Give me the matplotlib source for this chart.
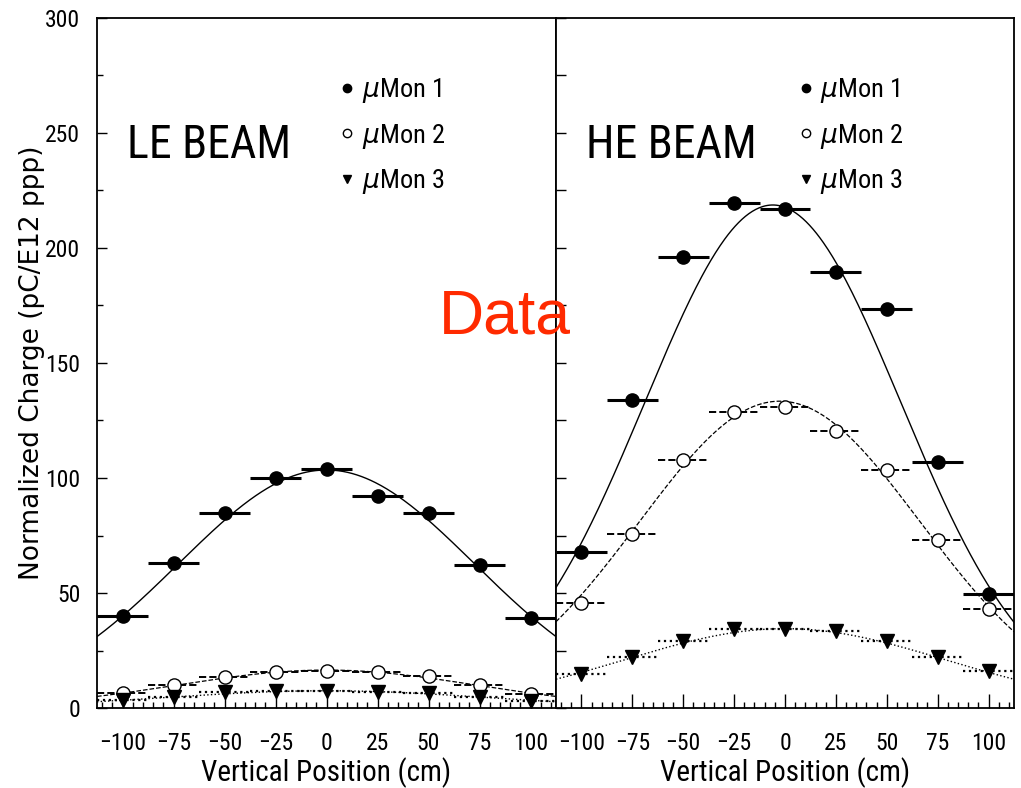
import numpy as np
import matplotlib.pyplot as plt
from matplotlib import font_manager
from matplotlib.lines import Line2D
from matplotlib.ticker import MultipleLocator

# vertical position of each bin centre (cm), bin width 25 cm
pos = [-100, -75, -50, -25, 0, 25, 50, 75, 100]
half_bin = 12.5

# LE beam, normalized charge (pC/E12 ppp)
le_mon1 = [40, 63, 85, 100, 104, 92, 85, 62, 39]
le_mon2 = [6.5, 10, 13.6, 15.8, 16.2, 15.5, 14, 10, 6]
le_mon3 = [3.5, 5, 6.8, 7.5, 7.5, 7, 6.5, 5, 3]

# HE beam
he_mon1 = [68, 134, 196, 219.5, 217, 189.5, 173.5, 107, 49.5]
he_mon2 = [45.5, 75.5, 108, 128.5, 131, 120.5, 103.5, 73, 43]
he_mon3 = [15, 22, 29, 34.5, 34.5, 33.5, 29, 22, 16]

# gaussian fits: (amplitude, mean, sigma)
le_fits = [(103.5, 0, 72.5), (16.5, 0, 73), (7.5, 0, 79)]
he_fits = [(218.7, -6, 63), (133.4, -2.6, 69), (34.5, 0, 79)]

# pick a narrow face if one is installed
installed = {f.name for f in font_manager.fontManager.ttflist}
cands = ['DejaVu Sans Condensed', 'Liberation Sans Narrow', 'Roboto Condensed',
         'Open Sans Condensed', 'Noto Sans Condensed']
narrow = [c for c in cands if c in installed]
have_narrow = len(narrow) > 0
plt.rcParams['font.family'] = narrow + ['DejaVu Sans']
stretch = 'normal' if have_narrow else 'condensed'
plt.rcParams['font.stretch'] = stretch

tick_fs = 17 if have_narrow else 14.5
leg_fs = 19 if have_narrow else 16.5
title_fs = 33 if have_narrow else 28

styles = [
    dict(marker='o', mfc='black', ls='-', lw=2.2, flw=1.0),
    dict(marker='o', mfc='white', ls='--', lw=1.4, flw=0.9),
    dict(marker='v', mfc='black', ls=':', lw=1.6, flw=1.0),
]


def draw_panel(ax, series, fits, title):
    xx = np.linspace(-112.5, 112.5, 400)
    for vals, (amp, mu, sig), st in zip(series, fits, styles):
        cont = ax.errorbar(pos, vals, xerr=half_bin, fmt=st['marker'],
                           mfc=st['mfc'], mec='black', ms=9.5, mew=1.0,
                           ecolor='black', elinewidth=st['lw'], capsize=0,
                           zorder=3)
        for lc in cont.lines[2]:
            lc.set_linestyle(st['ls'])
        ax.plot(xx, amp * np.exp(-(xx - mu) ** 2 / (2 * sig ** 2)),
                color='black', ls=st['ls'], lw=st['flw'], zorder=2)

    ax.set_xlim(-112.5, 112.5)
    ax.set_ylim(0, 300)
    ax.xaxis.set_major_locator(MultipleLocator(25))
    ax.xaxis.set_minor_locator(MultipleLocator(5))
    ax.yaxis.set_major_locator(MultipleLocator(50))
    ax.yaxis.set_minor_locator(MultipleLocator(25))
    ax.tick_params(which='both', direction='in', top=False, right=False,
                   labelsize=tick_fs, width=1.0)
    ax.tick_params(axis='x', which='major', length=10, pad=17)
    ax.tick_params(axis='x', which='minor', length=4.5)
    ax.tick_params(axis='y', which='major', length=7, pad=12)
    ax.tick_params(axis='y', which='minor', length=4)
    for sp in ax.spines.values():
        sp.set_linewidth(1.3)
    ax.set_xlabel('Vertical Position (cm)', fontsize=21, labelpad=2)

    ax.text(-98, 239, title, fontsize=title_fs, va='baseline', ha='left')

    handles = [Line2D([], [], ls='none', marker=st['marker'], mfc=st['mfc'],
                      mec='black', ms=6) for st in styles]
    ax.legend(handles, [r'$\mu$Mon 1', r'$\mu$Mon 2', r'$\mu$Mon 3'],
              loc='upper left', bbox_to_anchor=(0.47, 0.95), frameon=False,
              fontsize=leg_fs, handlelength=0.8, handletextpad=0.15,
              labelspacing=0.62)


fig = plt.figure(figsize=(10.21, 7.88), dpi=100)
ax1 = fig.add_axes([97 / 1021, 80 / 788, 459 / 1021, 690 / 788])
ax2 = fig.add_axes([556 / 1021, 80 / 788, 458 / 1021, 690 / 788])

draw_panel(ax1, [le_mon1, le_mon2, le_mon3], le_fits, 'LE BEAM')
draw_panel(ax2, [he_mon1, he_mon2, he_mon3], he_fits, 'HE BEAM')
ax2.tick_params(axis='y', which='both', labelleft=False)
ax2.tick_params(axis='y', which='minor', length=7)

fig.text(0.031, 0.54, 'Normalized Charge (pC/E12 ppp)', rotation=90,
         ha='center', va='center', fontsize=19, family='DejaVu Sans',
         stretch='normal')
fig.text(0.4946, 0.577, 'Data', color='#ff2a00', fontsize=45,
         ha='center', va='baseline', family='Liberation Sans',
         stretch='normal')

fig.savefig('out.png', dpi=100)
